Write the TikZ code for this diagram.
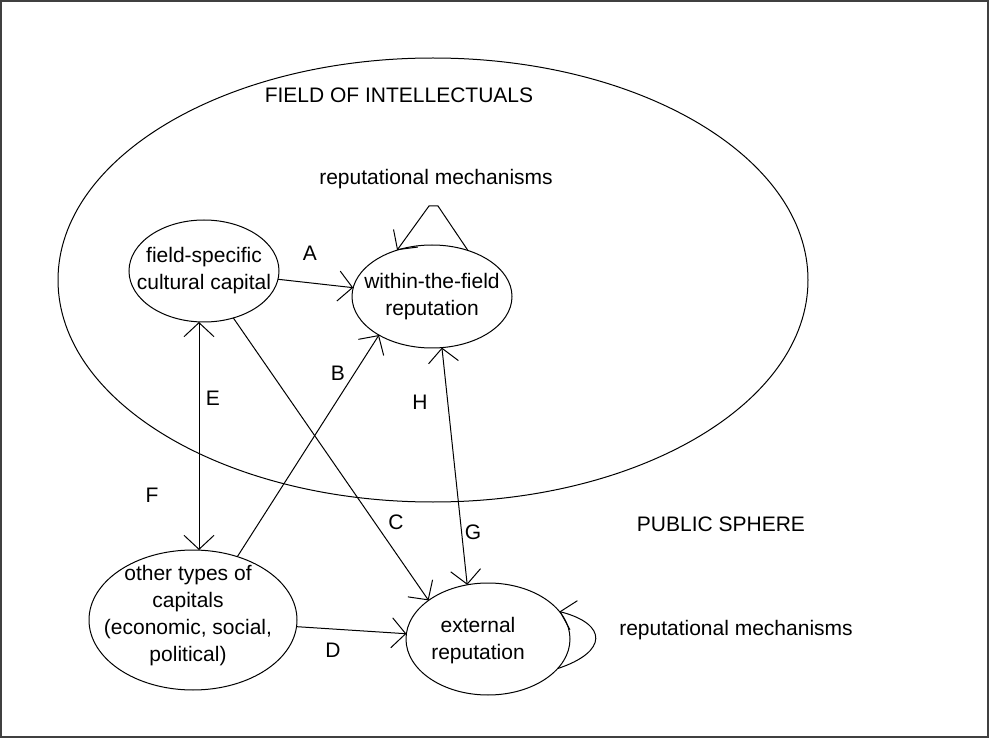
\documentclass[tikz,border=0pt]{standalone}
\usepackage{fontspec}
\setmainfont{Liberation Sans}
\usetikzlibrary{shapes.geometric,arrows.meta}
\definecolor{bordergray}{RGB}{64,64,64}
\begin{document}
\begin{tikzpicture}[x=1pt,y=-1pt,line width=1pt,
  every node/.style={font=\fontsize{21}{27}\selectfont},
  oval/.style={draw, ellipse, inner sep=0pt, outer sep=0pt},
  txt/.style={inner sep=0pt},
  tip/.tip={Straight Barb[length=14pt,width=30pt]},
  arr/.style={-tip},
  darr/.style={tip-tip}]
\useasboundingbox (0,0) rectangle (989,738);
\draw[line width=2pt, draw=bordergray] (1,1) rectangle (988,737);

% field of intellectuals
\node[oval, minimum width=750pt, minimum height=444pt] (field) at (433,280) {};

% ellipses
\node[oval, minimum width=150pt, minimum height=102pt,
  label={[align=center,name=fscT]center:field-specific\\cultural capital}] (fsc) at (204,271) {};
\node[oval, minimum width=160pt, minimum height=103pt,
  label={[align=center,name=wtfT]center:within-the-field\\reputation}] (wtf) at (432,296.5) {};
\node[oval, minimum width=208pt, minimum height=140pt,
  label={[align=center,name=othT,xshift=-5pt,yshift=4pt]center:other types of\\capitals\\(economic, social,\\political)}] (oth) at (193,620) {};
\node[oval, minimum width=164pt, minimum height=112pt,
  label={[align=center,name=extT,xshift=-10pt,yshift=-2pt]center:external\\reputation}] (ext) at (488,639) {};

% texts
\node[txt] (tField) at (399,95) {FIELD OF INTELLECTUALS};
\node[txt] (tRepTop) at (436,179) {reputational mechanisms};
\node[txt] (tPublic) at (721,524) {PUBLIC SPHERE};
\node[txt] (tRepRight) at (736,630) {reputational mechanisms};

% letters
\node[txt] (lA) at (310,253) {A};
\node[txt] (lB) at (338,373) {B};
\node[txt] (lC) at (396,522) {C};
\node[txt] (lD) at (333,650) {D};
\node[txt] (lE) at (213,398) {E};
\node[txt] (lF) at (152,495) {F};
\node[txt] (lG) at (473,532) {G};
\node[txt] (lH) at (420,402) {H};

% connectors
\draw[arr] (fsc) -- (wtf);
\draw[darr] ([xshift=-5pt]fsc.south) -- ([xshift=-5pt]fsc.south |- oth.north);
\draw[arr] (oth.55) -- (wtf.216);
\draw[arr] (fsc.-58) -- (ext.147);
\draw[darr] (wtf.-79) -- (ext.111);
\draw[arr] (oth) -- (ext);

% self loops
\coordinate (wpeakL) at (429,206);
\coordinate (wpeakR) at (438,206);
\draw[arr] (wtf.52) -- (wpeakR) -- (wpeakL) -- (wtf.127);
\draw[arr] (ext.-23) .. controls (608,652) and (608,624) .. (ext.21);
\end{tikzpicture}
\end{document}
